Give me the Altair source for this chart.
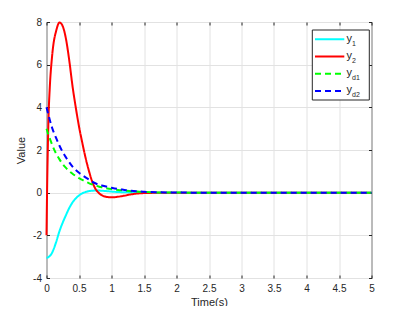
import altair as alt
import pandas as pd

# ---- data ----
t = [0, 0.01, 0.02, 0.03, 0.05, 0.08, 0.1, 0.15, 0.2, 0.25, 0.3, 0.35, 0.4, 0.45,
     0.5, 0.55, 0.6, 0.65, 0.7, 0.75, 0.8, 0.85, 0.9, 1.0, 1.1, 1.2, 1.3, 1.4, 1.5,
     1.75, 2.0, 2.5, 3.0, 3.5, 4.0, 4.5, 5.0]

y1 = [-3.05, -3.05, -3.04, -3.02, -2.97, -2.85, -2.72, -2.3, -1.8, -1.4, -1.05, -0.72,
      -0.46, -0.27, -0.13, -0.03, 0.03, 0.07, 0.09, 0.1, 0.1, 0.09, 0.08, 0.05, 0.03,
      0.02, 0.01, 0.005, 0, 0, 0, 0, 0, 0, 0, 0, 0]

y2 = [-2.0, 0.3, 2.0, 3.4, 4.9, 6.2, 6.8, 7.6, 7.98, 7.8, 7.2, 6.2, 5.0, 4.0,
      3.1, 2.35, 1.65, 1.05, 0.55, 0.2, 0.0, -0.12, -0.18, -0.22, -0.19, -0.14,
      -0.08, -0.04, -0.02, -0.005, 0, 0, 0, 0, 0, 0, 0]

yd1 = [3.0, 2.9, 2.8, 2.71, 2.55, 2.3, 2.15, 1.82, 1.56, 1.34, 1.16, 1.01, 0.89, 0.78,
       0.68, 0.6, 0.52, 0.45, 0.39, 0.34, 0.29, 0.25, 0.22, 0.17, 0.13, 0.1, 0.07,
       0.05, 0.03, 0.01, 0.003, 0, 0, 0, 0, 0, 0]

yd2 = [4.0, 3.88, 3.76, 3.65, 3.42, 3.1, 2.92, 2.55, 2.2, 1.9, 1.65, 1.42, 1.22, 1.06,
       0.93, 0.82, 0.72, 0.62, 0.52, 0.44, 0.38, 0.34, 0.3, 0.23, 0.17, 0.13, 0.09,
       0.06, 0.04, 0.015, 0.005, 0, 0, 0, 0, 0, 0]

series_names = ["y1", "y2", "yd1", "yd2"]
legend_sub = ["1", "2", "d1", "d2"]
colors = ["#00ffff", "#ff0000", "#00ff00", "#0000ff"]
dashes = [[1, 0], [1, 0], [6, 4], [6, 4]]

x_ticks = [0, 0.5, 1, 1.5, 2, 2.5, 3, 3.5, 4, 4.5, 5]
y_ticks = [-4, -2, 0, 2, 4, 6, 8]

rows = []
for name, vals in zip(series_names, [y1, y2, yd1, yd2]):
    for ti, v in zip(t, vals):
        rows.append({"t": ti, "value": v, "series": name})
df = pd.DataFrame(rows)

W, H = 325, 256
FONT = "Liberation Sans"
INK = "#262626"

xs = alt.Scale(domain=[0, 5], nice=False, zero=False)
ys = alt.Scale(domain=[-4, 8], nice=False, zero=False)

lines = alt.Chart(df).mark_line(strokeWidth=2, interpolate="monotone").encode(
    x=alt.X("t:Q", scale=xs,
            axis=alt.Axis(values=x_ticks, title="Time(s)", grid=True, ticks=False,
                          domain=False, labelExpr="'' + datum.value", labelPadding=5,
                          titlePadding=3, labelFlush=False)),
    y=alt.Y("value:Q", scale=ys,
            axis=alt.Axis(values=y_ticks, title="Value", grid=True, ticks=False,
                          domain=False, labelExpr="'' + datum.value", labelPadding=5,
                          titlePadding=6)),
    color=alt.Color("series:N", scale=alt.Scale(domain=series_names, range=colors), legend=None),
    strokeDash=alt.StrokeDash("series:N", scale=alt.Scale(domain=series_names, range=dashes), legend=None),
)

# inward tick marks on all four sides (MATLAB box style)
ticks_a = alt.Chart(df).mark_point(opacity=0).encode(
    x=alt.X("t:Q", scale=xs,
            axis=alt.Axis(orient="bottom", offset=-H, values=x_ticks, labels=False, title="",
                          grid=False, domain=False, ticks=True, tickSize=3, tickColor=INK)),
    y=alt.Y("value:Q", scale=ys,
            axis=alt.Axis(orient="left", offset=-W, values=y_ticks, labels=False, title="",
                          grid=False, domain=False, ticks=True, tickSize=3, tickColor=INK)),
)
ticks_b = alt.Chart(df).mark_point(opacity=0).encode(
    x=alt.X("t:Q", scale=xs,
            axis=alt.Axis(orient="top", offset=-H, values=x_ticks, labels=False, title="",
                          grid=False, domain=False, ticks=True, tickSize=3, tickColor=INK)),
    y=alt.Y("value:Q", scale=ys,
            axis=alt.Axis(orient="right", offset=-W, values=y_ticks, labels=False, title="",
                          grid=False, domain=False, ticks=True, tickSize=3, tickColor=INK)),
)

# legend box
dummy = pd.DataFrame({"k": [0]})
legend_layers = [
    alt.Chart(dummy).mark_rect(fill="white", stroke=INK, strokeWidth=1).encode(
        x=alt.value(265.8), x2=alt.value(322.8), y=alt.value(8), y2=alt.value(78))
]
for i in range(len(series_names)):
    yy = 17.3 + 17.2 * i
    legend_layers.append(
        alt.Chart(dummy).mark_rule(color=colors[i], strokeDash=dashes[i], strokeWidth=2).encode(
            x=alt.value(268.5), x2=alt.value(297.8), y=alt.value(yy)))
    legend_layers.append(
        alt.Chart(dummy).mark_text(text="y", align="left", baseline="alphabetic", fontSize=11,
                                   font=FONT, color=INK).encode(
            x=alt.value(300), y=alt.value(yy + 2.5)))
    legend_layers.append(
        alt.Chart(dummy).mark_text(text=legend_sub[i], align="left", baseline="alphabetic",
                                   fontSize=7, font=FONT, color=INK).encode(
            x=alt.value(305.6), y=alt.value(yy + 6.5)))

chart = alt.layer(lines, ticks_a, ticks_b, *legend_layers).resolve_axis(
    x="independent", y="independent"
).properties(
    width=W, height=H,
    autosize="none",
    padding={"left": 38.5, "top": 14, "right": 23.5, "bottom": 28},
).configure_view(
    stroke=INK, strokeWidth=1
).configure_axis(
    labelFont=FONT, labelFontSize=10, labelColor=INK,
    titleFont=FONT, titleFontSize=11, titleColor=INK, titleFontWeight="normal",
    gridColor="#e2e2e2", gridWidth=1,
)

chart.save("out.html", embed_options={"renderer": "svg", "actions": False})
